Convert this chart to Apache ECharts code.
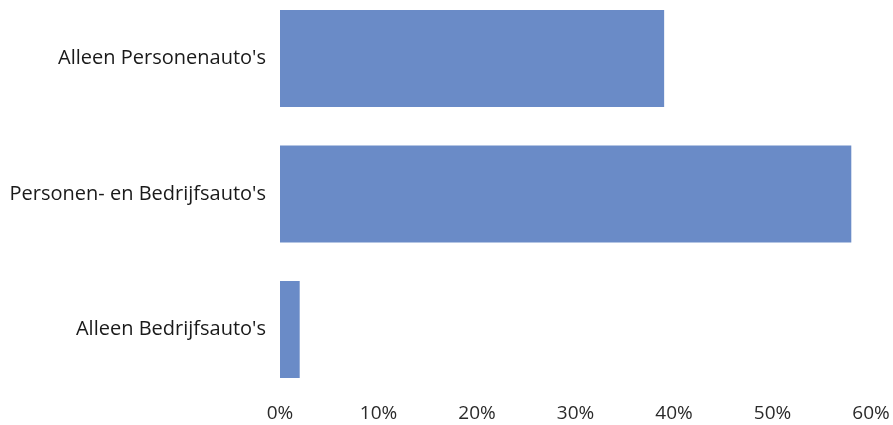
<!DOCTYPE html>
<html><head><meta charset="utf-8">
<script src="https://cdn.jsdelivr.net/npm/echarts@6/dist/echarts.min.js"></script>
<style>html,body{margin:0;padding:0;background:#fff}#c{width:893px;height:425px}</style>
</head><body><div id="c"></div>
<script>
const categories = ["Alleen Bedrijfsauto's", "Personen- en Bedrijfsauto's", "Alleen Personenauto's"];
const values = [2, 58, 39];
const tickLabels = ["0%", "10%", "20%", "30%", "40%", "50%", "60%"];

const chart = echarts.init(document.getElementById('c'), null, {renderer: 'canvas'});
chart.setOption({
  animation: false,
  grid: {left: 280, right: 22, top: 58.5, height: 271, containLabel: false},
  xAxis: {
    type: 'value', min: 0, max: 60, interval: 10, offset: 68,
    axisLine: {show: false}, axisTick: {show: false}, splitLine: {show: false},
    axisLabel: {
      margin: 7, color: '#2a2a2a', fontFamily: 'Open Sans', fontSize: 19,
      formatter: v => tickLabels[Math.round(v / 10)]
    }
  },
  yAxis: {
    type: 'category', data: categories, boundaryGap: false,
    axisLine: {show: false}, axisTick: {show: false}, splitLine: {show: false},
    axisLabel: {margin: 14, color: '#1a1a1a', fontFamily: 'Open Sans', fontSize: 20}
  },
  series: [{
    type: 'bar', data: values, barWidth: 97, clip: false,
    itemStyle: {color: '#6a8bc7'}
  }]
});
</script></body></html>
